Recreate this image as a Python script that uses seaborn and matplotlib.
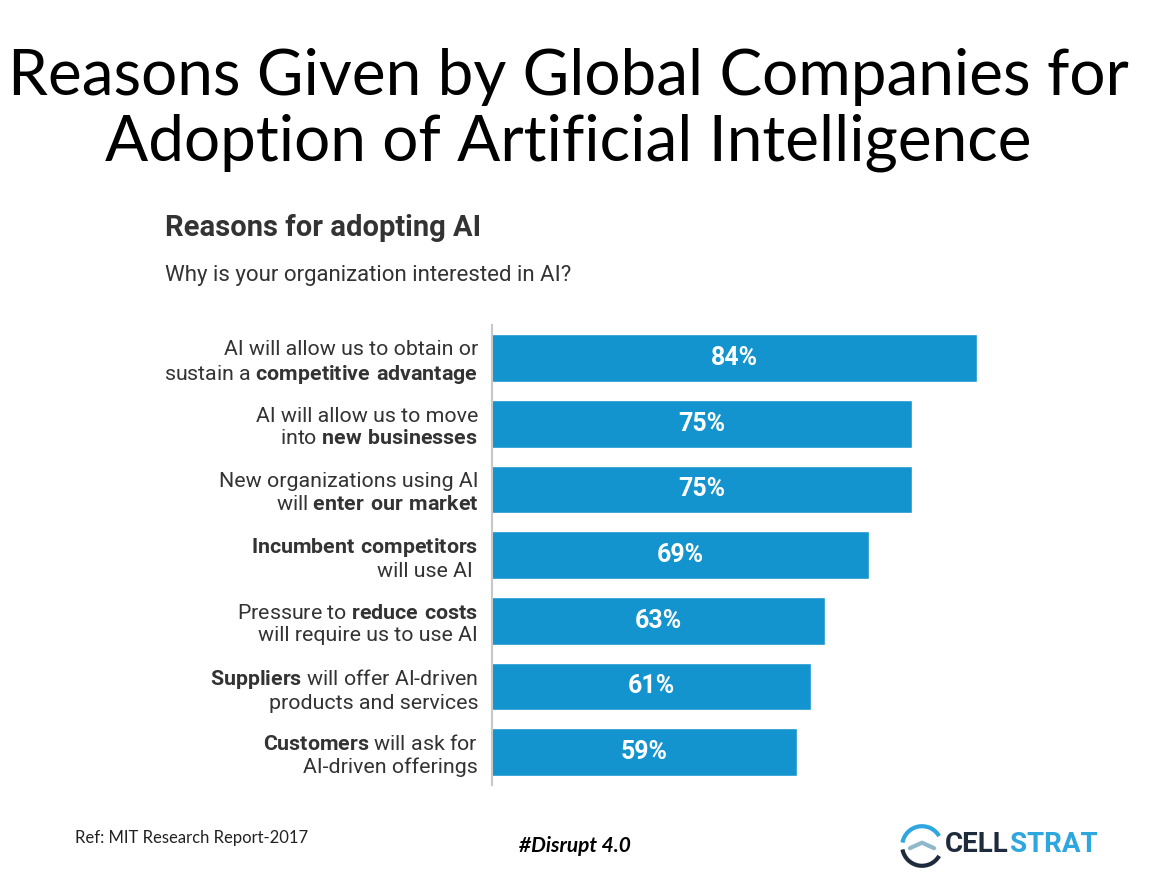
import pandas as pd
import matplotlib.pyplot as plt
import seaborn as sns
from matplotlib.patches import Arc

# data
categories = [
    "Competitive advantage",
    "New businesses",
    "New entrants",
    "Incumbent competitors",
    "Reduce costs",
    "Suppliers",
    "Customers",
]
values = [84, 75, 75, 69, 63, 61, 59]
tick_labels = [
    "AI will allow us to obtain or\nsustain a $\\bf{competitive\\ advantage}$",
    "AI will allow us to move\ninto $\\bf{new\\ businesses}$",
    "New organizations using AI\nwill $\\bf{enter\\ our\\ market}$",
    "$\\bf{Incumbent\\ competitors}$\nwill use AI ",
    "Pressure to $\\bf{reduce\\ costs}$\nwill require us to use AI",
    "$\\bf{Suppliers}$ will offer AI-driven\nproducts and services",
    "$\\bf{Customers}$ will ask for\nAI-driven offerings",
]

sns.set_style("white")
plt.rcParams['font.family'] = ['Roboto', 'DejaVu Sans']
plt.rcParams['mathtext.fontset'] = 'custom'
plt.rcParams['mathtext.rm'] = 'Roboto'
plt.rcParams['mathtext.bf'] = 'Roboto:bold'

bar_color = "#1394cf"
x0 = 16.7  # the original chart's axis does not start at zero

df = pd.DataFrame({"reason": categories, "pct": values})

fig = plt.figure(figsize=(11.6, 8.84), dpi=100)
ax = fig.add_axes([0.4241, 0.112, 0.438, 0.520])
sns.barplot(data=df, x="pct", y="reason", orient="h", color=bar_color,
            width=0.73, saturation=1, ax=ax)

ax.set_xlim(x0, x0 + 508 / 7.2)
ax.set_ylim(6.5, -0.5)
ax.set_xlabel("")
ax.set_ylabel("")
ax.set_xticks([])
ax.set_yticks(range(len(categories)))
ax.set_yticklabels(tick_labels, fontsize=15.4, color="#333333", linespacing=1.22)
ax.tick_params(axis="y", length=0, pad=10)
for s in ["top", "right", "bottom"]:
    ax.spines[s].set_visible(False)
ax.spines["left"].set_color("#c8c8c8")
ax.spines["left"].set_linewidth(1.5)

for i, v in enumerate(values):
    ax.text((x0 + v) / 2, i, f"{v}%", ha="center", va="center",
            color="white", fontsize=18, fontweight="bold")

# titles
fig.text(0.49, 1 - 110 / 884, "Reasons Given by Global Companies for\nAdoption of Artificial Intelligence",
         ha="center", va="center", fontsize=46, family="Lato", linespacing=1.14,
         color="black")
fig.text(165 / 1160, 1 - 228 / 884, "Reasons for adopting AI", ha="left", va="center",
         fontsize=21, fontweight="bold", color="#333333")
fig.text(165 / 1160, 1 - 276 / 884, "Why is your organization interested in AI?",
         ha="left", va="center", fontsize=16, color="#333333")

# footer
fig.text(75 / 1160, 1 - 838 / 884, "Ref: MIT Research Report-2017", ha="left", va="center",
         fontsize=12, family="Lato", color="#222222")
fig.text(575 / 1160, 1 - 846 / 884, "#Disrupt 4.0", ha="center", va="center",
         fontsize=15, family="Lato", fontweight="bold", style="italic", color="black")
cell = fig.text(945 / 1160, 1 - 845 / 884, "CELL", ha="left", va="center",
                fontsize=20, fontweight="bold", color="#1e2b3c")
fig.canvas.draw()
bb = cell.get_window_extent()
fig.text(bb.x1 / fig.bbox.width + 0.001, 1 - 845 / 884, "STRAT", ha="left", va="center",
         fontsize=20, fontweight="bold", color="#2ea6de")
logo = fig.add_axes([900 / 1160, 1 - 868 / 884, 44 / 1160, 44 / 884])
logo.set_xlim(-1, 1)
logo.set_ylim(-1, 1)
logo.set_aspect("equal")
logo.axis("off")
logo.add_patch(Arc((0, 0), 1.8, 1.8, theta1=30, theta2=170, color="#2ea6de", lw=3))
logo.add_patch(Arc((0, 0), 1.8, 1.8, theta1=190, theta2=330, color="#1e2b3c", lw=3))
logo.plot([-0.55, 0.0, 0.55], [-0.1, 0.15, -0.1], color="#8fb8cc", lw=3)

fig.savefig("out.png", dpi=100)
